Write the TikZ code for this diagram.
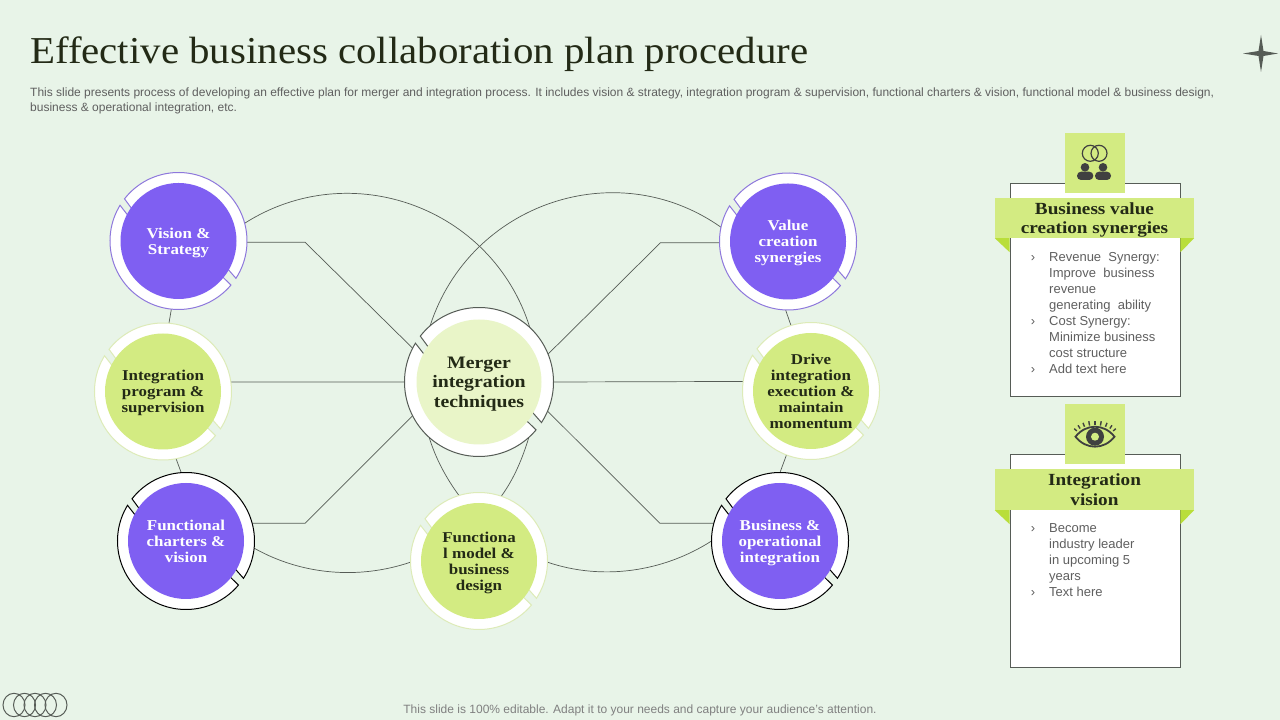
\documentclass[tikz,border=0pt]{standalone}
\usepackage{fontspec}
\setmainfont{Liberation Serif}
\setsansfont{Liberation Sans}
\newfontfamily\labelfont[FakeStretch=1.13]{Liberation Serif}
\newfontfamily\titlefont[FakeStretch=1.076]{Liberation Serif}
\usetikzlibrary{backgrounds}
\definecolor{pagebg}{HTML}{E8F4E8}
\definecolor{discpurple}{HTML}{7F5FF2}
\definecolor{ringpurple}{HTML}{8E78DC}
\definecolor{discgreen}{HTML}{D3EB82}
\definecolor{ringgreen}{HTML}{DDEBB8}
\definecolor{discpale}{HTML}{E9F5C8}
\definecolor{foldgreen}{HTML}{B9DE3A}
\definecolor{inkdark}{HTML}{232A16}
\definecolor{inkgray}{HTML}{5F5F5F}
\definecolor{linegray}{HTML}{565C56}
\definecolor{icondark}{HTML}{404040}
\begin{document}
\begin{tikzpicture}[x=1pt, y=1pt]
    \tikzset{
      disc/.style={circle, minimum size=116pt, inner sep=-2pt, outer sep=10.5pt, align=center, text depth=0pt,
        font=\labelfont\fontsize{15}{16}\selectfont\bfseries},
      violet disc/.style={disc, fill=discpurple, text=white},
      green disc/.style={disc, fill=discgreen, text=inkdark},
      link/.style={draw=linegray, line width=.7pt},
      ringpart/.style={fill=white, line width=1pt},
      ring/.pic={
        \path[ringpart, draw=#1] (-33:68.5) arc[start angle=-33, end angle=142, radius=68.5]
          -- (146:55) arc[start angle=146, end angle=-29, radius=55] -- cycle;
        \path[ringpart, draw=#1] (148.6:68.5) arc[start angle=148.6, end angle=320, radius=68.5]
          -- (321:55) arc[start angle=321, end angle=154, radius=55] -- cycle;
      },
      panel/.style={draw=linegray, fill=white, line width=.8pt, minimum width=170pt, minimum height=213pt},
      tile/.style={fill=discgreen, minimum size=60pt, inner sep=0pt},
      banner/.style={fill=discgreen, minimum width=199pt, minimum height=40pt, inner sep=0pt, align=center,
        text=inkdark, text depth=0pt, font=\labelfont\fontsize{17}{19.5}\selectfont\bfseries},
      bullets/.style={anchor=north west, inner sep=0pt, align=left, text=inkgray,
        font=\sffamily\fontsize{13}{16}\selectfont},
    }
    \useasboundingbox (0,0) rectangle (1280,720);
    % heading
    \node [anchor=west, inner sep=0pt, text=inkdark, font=\titlefont\fontsize{38}{40}\selectfont] (title) at (30,665.5) {Effective business collaboration plan procedure};
    \node [anchor=north west, inner sep=0pt, align=left, text=inkgray, font=\sffamily\fontsize{12}{14.8}\selectfont] (intro) at (30,632) {This slide presents process of developing an effective plan for merger and integration process. It includes vision \& strategy, integration program \& supervision, functional charters \& vision, functional model \& business design,\\business \& operational integration, etc.};
    \node [text=gray, font=\sffamily\fontsize{12}{14}\selectfont] (foot) at (640,10) {This slide is 100\% editable. Adapt it to your needs and capture your audience's attention.};

    % circles
    \node [violet disc] (vision) at (178.5,479) {Vision \&\\Strategy};
    \node [green disc] (program) at (163,328.5) {Integration\\program \&\\supervision};
    \node [violet disc] (charters) at (186,179) {Functional\\charters \&\\vision};
    \node [disc, fill=discpale, text=inkdark, minimum size=125pt, outer sep=12pt, font=\labelfont\fontsize{17.5}{19.5}\selectfont\bfseries] (merger) at (479,338) {Merger\\integration\\techniques};
    \node [green disc] (model) at (479,159) {Functiona\\l model \&\\business\\design};
    \node [violet disc] (value) at (788,478.5) {Value\\creation\\synergies};
    \node [green disc] (drive) at (811,329) {Drive\\integration\\execution \&\\maintain\\momentum};
    \node [violet disc] (operational) at (780,179) {Business \&\\operational\\integration};

    \begin{scope}[on background layer]
      \fill[pagebg] (0,0) rectangle (1280,720);
      % straight links
      \draw[link] (vision.-1) -- ++(58,0) coordinate (kneea) -- (merger.153);
      \draw[link] (charters.15) -- ++(53,0) coordinate (kneeb) -- (merger.207);
      \draw[link] (value.181) -- ++(-59,0) coordinate (kneec) -- (merger.22.6);
      \draw[link] (operational.165) -- ++(-54,0) coordinate (kneed) -- (merger.-23);
      \path[link] (program.8) edge (merger.west);
      \path[link] (drive.172) edge (merger.east);
      % the two big circles, piece by piece
      \path[link] (vision.15) edge[out=32.5, in=107.3, looseness=1.06] (merger.47);
      \path[link] (merger.-48) edge[out=-106.9, in=54, looseness=.86] (model.71);
      \path[link] (model.181.4) edge[out=-161.3, in=-29.4, looseness=.89] (charters.-6);
      \path[link] (vision.264.6) edge (program.85);
      \path[link] (program.281) edge (charters.94);
      \path[link] (value.168.4) edge[out=144.8, in=72.1, looseness=1.07] (merger.131);
      \path[link] (merger.228.6) edge[out=287.1, in=126.3, looseness=.86] (model.107.4);
      \path[link] (model.-1.4) edge[out=341.2, in=212.7, looseness=.89] (operational.180.8);
      \path[link] (value.268) edge (drive.107);
      \path[link] (drive.249) edge (operational.90);
      % rings
      \pic at (vision) {ring=ringpurple};
      \pic at (value) {ring=ringpurple};
      \pic at (program) {ring=ringgreen};
      \pic at (drive) {ring=ringgreen};
      \pic at (model) {ring=ringgreen};
      \pic at (charters) {ring=black};
      \pic at (operational) {ring=black};
      \pic [scale=1.0876] at (merger) {ring=linegray};
    \end{scope}

    % first panel
    \node [panel] (boxa) at (1095,429.8) {};
    \node [tile] (tilea) [above of=boxa, node distance=127.2pt] {};
    \node [banner] (bannera) [above of=boxa, node distance=72.2pt, xshift=-.5pt] {Business value\\creation synergies};
    \fill[foldgreen] (bannera.south west) -- (boxa.west |- bannera.south) -- ++(0,-14) -- cycle;
    \fill[foldgreen] (bannera.south east) -- (boxa.east |- bannera.south) -- ++(0,-14) -- cycle;
    \node [bullets] (lista) at (1049,467.5) {\llap{›\hspace{14pt}}Revenue\ \ Synergy:\\Improve\ \ business\\revenue\\generating\ \ ability\\\llap{›\hspace{14pt}}Cost Synergy:\\Minimize business\\cost structure\\\llap{›\hspace{14pt}}Add text here};
    % people icon
    \draw[icondark, line width=1.2pt] ([xshift=-4.7pt,yshift=9.7pt]tilea.center) circle (8);
    \draw[icondark, line width=1.2pt] ([xshift=4pt,yshift=9.7pt]tilea.center) circle (8);
    \fill[icondark] ([xshift=-10pt,yshift=-4.3pt]tilea.center) circle (4.3);
    \fill[icondark] ([xshift=8pt,yshift=-4.3pt]tilea.center) circle (4.3);
    \fill[icondark, rounded corners=4pt] ([xshift=-18pt,yshift=-17pt]tilea.center) rectangle ([xshift=-1.7pt,yshift=-8.7pt]tilea.center);
    \fill[icondark, rounded corners=4pt] ([xshift=0pt,yshift=-17pt]tilea.center) rectangle ([xshift=16pt,yshift=-8.7pt]tilea.center);

    % second panel
    \node [panel] (boxb) at (1095,159.2) {};
    \node [tile] (tileb) [above of=boxb, node distance=126.5pt] {};
    \node [banner] (bannerb) [above of=boxb, node distance=71.3pt, xshift=-.5pt, minimum height=41pt] {Integration\\vision};
    \fill[foldgreen] (bannerb.south west) -- (boxb.west |- bannerb.south) -- ++(0,-14) -- cycle;
    \fill[foldgreen] (bannerb.south east) -- (boxb.east |- bannerb.south) -- ++(0,-14) -- cycle;
    \node [bullets] (listb) at (1049,196.5) {\llap{›\hspace{14pt}}Become\\industry leader\\in upcoming 5\\years\\\llap{›\hspace{14pt}}Text here};
    % eye icon
    \begin{scope}[shift={(tileb.center)}]
      \draw[icondark, line width=1.8pt] (-19.5,-2.4) .. controls (-9,10.9) and (9,10.9) .. (19.5,-2.4) .. controls (9,-15.7) and (-9,-15.7) .. cycle;
      \fill[icondark] (0,-2.4) circle (9);
      \fill[discgreen] (0,-2.4) circle (4);
      \foreach \a in {30,45,...,150}
        \draw[icondark, line width=1.4pt] ({21*cos(\a)},{-2.4+11.5*sin(\a)}) -- ({24*cos(\a)},{-2.4+16*sin(\a)});
    \end{scope}

    % corner marks
    \fill[linegray] (1243,666.5) -- (1258.5,669) -- (1261,685) -- (1263.5,669) -- (1278,666.5) -- (1263.5,664) -- (1261,648) -- (1258.5,664) -- cycle;
    \draw[linegray, line width=1pt] (14,15) ellipse (11 and 11.7);
    \draw[linegray, line width=1pt] (24.5,15) ellipse (11 and 11.7);
    \draw[linegray, line width=1pt] (35,15) ellipse (11 and 11.7);
    \draw[linegray, line width=1pt] (45.5,15) ellipse (11 and 11.7);
    \draw[linegray, line width=1pt] (56,15) ellipse (11 and 11.7);
\end{tikzpicture}
\end{document}
